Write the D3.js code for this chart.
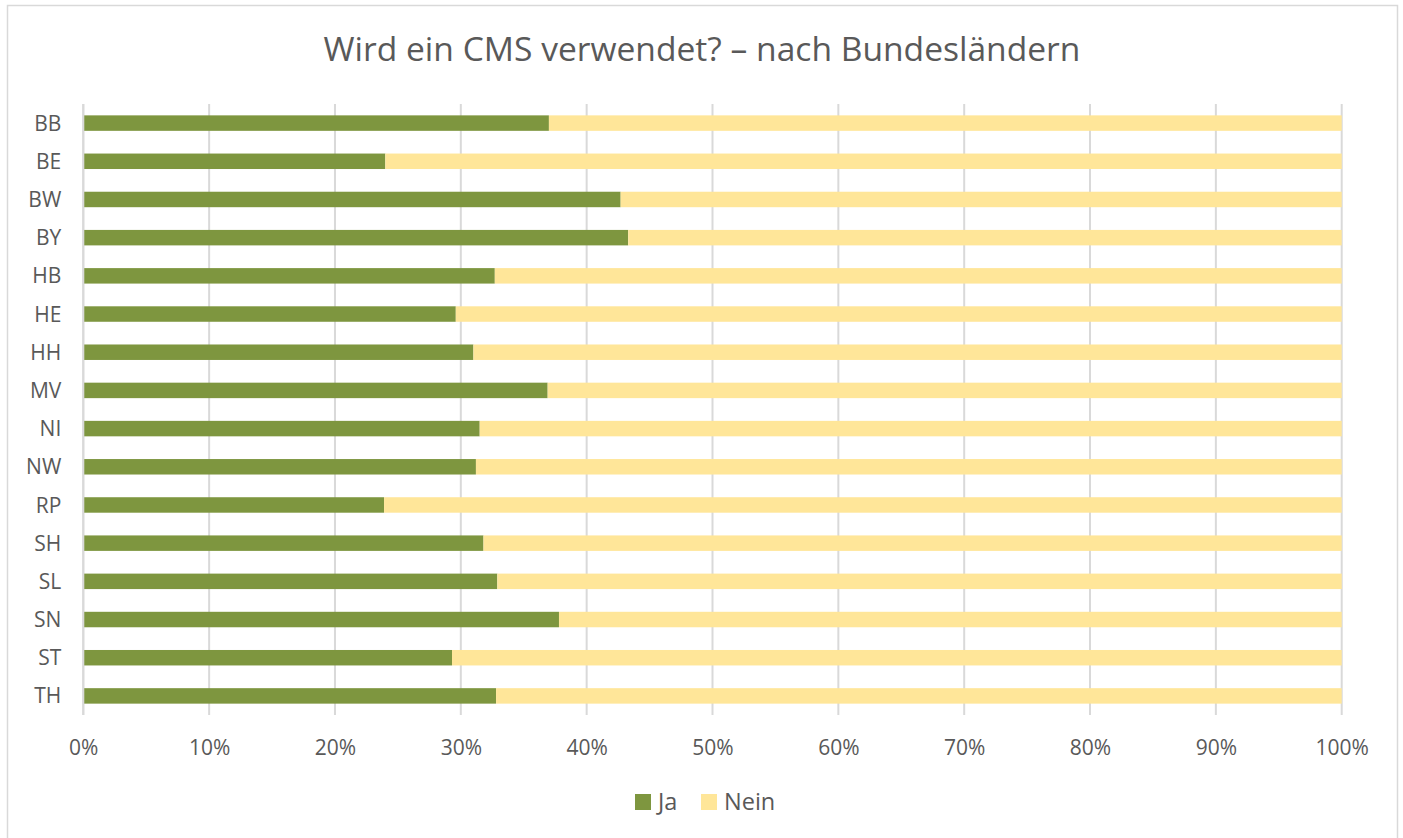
<!DOCTYPE html>
<html><head><meta charset="utf-8">
<script src="https://cdn.jsdelivr.net/npm/d3@7"></script>
<style>
html,body{margin:0;padding:0;background:#fff;}
svg{display:block;font-family:"Open Sans",sans-serif;}
</style></head>
<body>
<svg id="c" width="1403" height="838"></svg>
<script>
const categories = ["BB","BE","BW","BY","HB","HE","HH","MV","NI","NW","RP","SH","SL","SN","ST","TH"];
const jaValues = [37.0,24.0,42.7,43.3,32.7,29.6,31.0,36.9,31.5,31.2,23.9,31.8,32.9,37.8,29.3,32.8];
const neinValues = jaValues.map(v => 100 - v);
const seriesNames = ["Ja","Nein"];
const seriesColors = ["#7e963f","#ffe699"];
const xTicks = [0,10,20,30,40,50,60,70,80,90,100];
const titleText = "Wird ein CMS verwendet? – nach Bundesländern";

const svg = d3.select("#c");
const textColor = "#595959";

svg.append("rect").attr("x",7.5).attr("y",5.5).attr("width",1390).attr("height",840)
  .attr("fill","#fff").attr("stroke","#d9d9d9").attr("stroke-width",1.5);

const pLeft = 83.3, pRight = 1341.7, pTop = 104, pBottom = 715;
const x = d3.scaleLinear().domain([0,100]).range([pLeft,pRight]);
const y = d3.scaleBand().domain(categories).range([pTop,pBottom]).paddingInner(0.595).paddingOuter(0.2975);

// gridlines
svg.append("g").selectAll("line").data(xTicks).join("line")
  .attr("x1",d=>x(d)).attr("x2",d=>x(d)).attr("y1",pTop).attr("y2",pBottom)
  .attr("stroke","#d9d9d9").attr("stroke-width",2);

const data = categories.map((c,i)=>({cat:c, Ja:jaValues[i], Nein:neinValues[i]}));
const stack = d3.stack().keys(seriesNames)(data);
svg.append("g").selectAll("g").data(stack).join("g")
  .attr("fill",(d,i)=>seriesColors[i])
  .selectAll("rect").data(d=>d).join("rect")
  .attr("x",d=>x(d[0])).attr("width",d=>x(d[1])-x(d[0]))
  .attr("y",d=>y(d.data.cat)).attr("height",y.bandwidth());

// axes
const xAxis = d3.axisBottom(x).tickValues(xTicks).tickFormat(d=>d+"%").tickSize(0).tickPadding(0);
const gx = svg.append("g").attr("transform",`translate(0,${pBottom})`).call(xAxis);
gx.select(".domain").remove();
gx.selectAll("text").attr("y",40).attr("dy",0).attr("font-size",21).attr("fill",textColor)
  .attr("font-family","'Open Sans',sans-serif");

const yAxis = d3.axisLeft(y).tickSize(0).tickPadding(0);
const gy = svg.append("g").attr("transform",`translate(${pLeft},0)`).call(yAxis);
gy.select(".domain").remove();
gy.selectAll("text").attr("x",-22).attr("dy","0.36em").attr("font-size",21).attr("fill",textColor)
  .attr("font-family","'Open Sans',sans-serif");
svg.append("line").attr("x1",pLeft).attr("x2",pLeft).attr("y1",pTop).attr("y2",pBottom)
  .attr("stroke","#d9d9d9").attr("stroke-width",2);

// title
svg.append("text").attr("x",702).attr("y",61).attr("text-anchor","middle")
  .attr("font-size",33.6).attr("fill",textColor).text(titleText);

// legend
const legendItems = [{n:"Ja",x:635},{n:"Nein",x:701}];
const lg = svg.append("g");
legendItems.forEach((it,i)=>{
  lg.append("rect").attr("x",it.x).attr("y",794).attr("width",16).attr("height",16).attr("fill",seriesColors[i]);
  lg.append("text").attr("x",it.x+23).attr("y",810).attr("font-size",23.5).attr("fill",textColor).text(it.n);
});
</script>
</body></html>
